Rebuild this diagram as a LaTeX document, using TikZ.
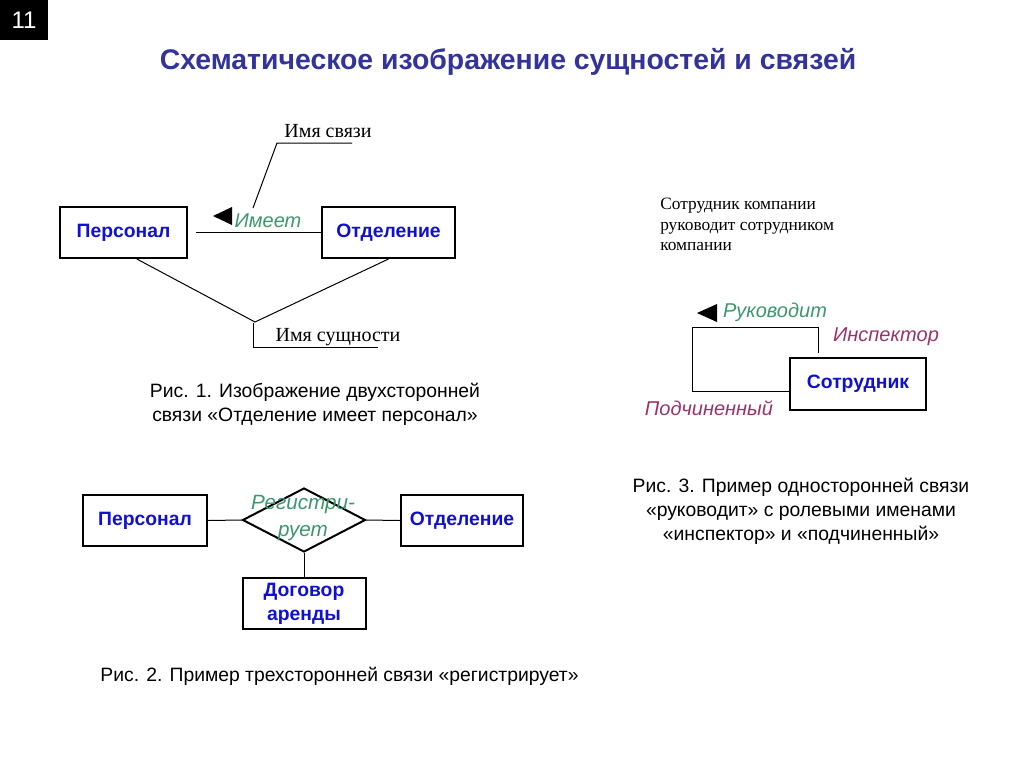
\documentclass[tikz,border=0pt]{standalone}
\usepackage{fontspec}
\setmainfont{Liberation Serif}
\setsansfont{Liberation Sans}
\usetikzlibrary{shapes.geometric}
\definecolor{titleblue}{RGB}{51,51,153}
\definecolor{entblue}{RGB}{16,16,208}
\definecolor{relgreen}{RGB}{62,150,110}
\definecolor{rolered}{RGB}{153,51,102}
\tikzset{
  entity/.style={draw, line width=1.5pt, fill=white, inner sep=0pt,
    font=\sffamily\bfseries\fontsize{14.5}{18}\selectfont, text=entblue, align=center},
  rel/.style={inner sep=0pt, font=\sffamily\itshape\fontsize{15}{20}\selectfont, text=relgreen, align=center},
  role/.style={inner sep=0pt, font=\sffamily\itshape\fontsize{15}{20}\selectfont, text=rolered},
  note/.style={inner sep=0pt, font=\rmfamily\fontsize{15}{18}\selectfont},
  smallnote/.style={inner sep=0pt, font=\rmfamily\fontsize{13}{15.4}\selectfont, align=left},
  caption/.style={inner sep=0pt, font=\sffamily\fontsize{14.5}{18}\selectfont, align=center},
  conn/.style={line width=0.75pt},
  pointer/.style={fill=black}
}
\begin{document}
\begin{tikzpicture}[x=0.75pt,y=-0.75pt]
\useasboundingbox (0,0) rectangle (1024,768);
% slide number
\node[fill=black, text=white, minimum width=36pt, minimum height=30pt, inner sep=0pt,
  font=\sffamily\fontsize{18}{20}\selectfont] (num) at (24,20) {11};
% title
\node[inner sep=0pt, text=titleblue, font=\sffamily\bfseries\fontsize{21.3}{24}\selectfont] (title) at (508,62)
  {Схематическое изображение сущностей и связей};

% ---------- Fig. 1 ----------
\node[entity, minimum width=95.25pt, minimum height=38.25pt] (p1) at (123.5,232.5) {Персонал};
\node[entity, minimum width=99.75pt, minimum height=38.25pt] (o1) at (388.5,232.5) {Отделение};
\draw[conn] ([xshift=6pt]p1.east) -- (o1.west);
\fill[pointer] (213,216) -- (232,207) -- (232,225) -- cycle;
\node[rel] (r1) at (268,221) {Имеет};
\coordinate (cb1) at (277,143);
\coordinate (cc1) at (352,143);
\draw[conn] (253,208) -- (cb1) -- (cc1);
\node[note] (n1) at (328,131) {Имя связи};
\coordinate (j1) at (255,322);
\coordinate (jv) at (253,347);
\coordinate (je) at (378,347);
\draw[conn] ([xshift=10pt]p1.south) -- (j1) -- (o1.south);
\draw[conn] (253,323) -- (jv) -- (je);
\node[note] (n2) at (338,337) {Имя сущности};
\node[caption] (c1) at (315,404.5) {Рис. 1. Изображение двухсторонней\\связи «Отделение имеет персонал»};

% ---------- Fig. 2 ----------
\node[entity, minimum width=93pt, minimum height=38.25pt] (p2) at (145,520.5) {Персонал};
\node[draw, line width=1.5pt, diamond, minimum width=92.25pt, minimum height=48pt, inner sep=0pt, fill=white] (d2) at (304,520) {};
\node[rel, font=\sffamily\itshape\fontsize{15.5}{20}\selectfont] (r2) at (303,518) {Регистри-\\рует};
\node[entity, minimum width=91.5pt, minimum height=38.25pt] (o2) at (462,520.5) {Отделение};
\node[entity, minimum width=92.25pt, minimum height=38.25pt] (g2) at (304,603.5) {Договор\\аренды};
\draw[conn] (p2.east) -- (d2.west);
\draw[conn] (d2.east) -- (o2.west);
\draw[conn] (d2.south) -- (g2.north);
\node[caption] (c2) at (339.5,676) {Рис. 2. Пример трехсторонней связи «регистрирует»};

% ---------- Fig. 3 ----------
\node[smallnote, anchor=north west] (n3) at (660,198) {Сотрудник компании\\руководит сотрудником\\компании};
\node[entity, minimum width=102pt, minimum height=39pt] (s3) at (858,384) {Сотрудник};
\fill[pointer] (697,313) -- (717,304) -- (717,322) -- cycle;
\node[rel] (r3) at (775,312) {Руководит};
\coordinate (ltr) at (818,327);
\coordinate (ltl) at (692,327);
\coordinate (lbl) at (692,391);
\draw[conn] (818,353) -- (ltr) -- (ltl) -- (lbl) -- (s3.west |- lbl);
\node[role] (i3) at (886,337) {Инспектор};
\node[role] (u3) at (709,408) {Подчиненный};
\node[caption] (c3) at (801,511) {Рис. 3. Пример односторонней связи\\«руководит» с ролевыми именами\\«инспектор» и «подчиненный»};
\end{tikzpicture}
\end{document}
